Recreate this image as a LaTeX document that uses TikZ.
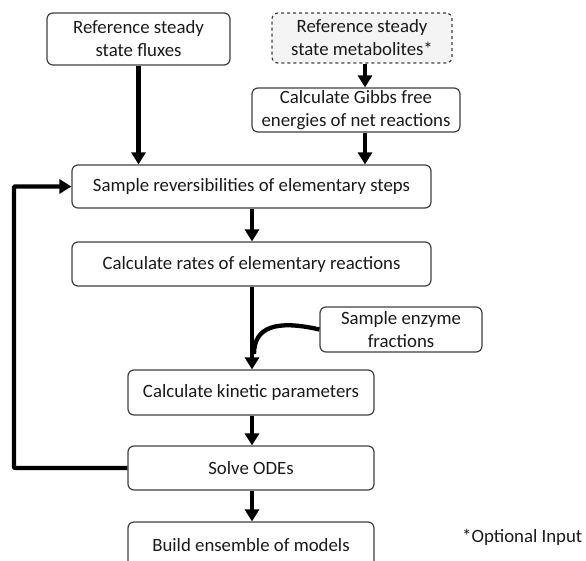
\documentclass[tikz,border=0pt]{standalone}
\usepackage{fontspec}
\setmainfont{Carlito}
\usetikzlibrary{arrows.meta}
\definecolor{boxline}{HTML}{404040}
\definecolor{boxfill}{HTML}{F4F4F4}
\definecolor{txt}{HTML}{1A1A1A}
\tikzset{
  procbox/.style={draw=boxline, line width=1.2pt, rounded corners=6pt, fill=white, text=txt,
    align=center, inner sep=0pt, font=\fontsize{18.8}{23}\selectfont},
  optbox/.style={procbox, dashed, fill=boxfill},
  flow/.style={line width=4.3pt, -{Triangle[width=14pt,length=12pt]}},
  flowline/.style={line width=4.3pt},
}
\begin{document}
\begin{tikzpicture}[x=1pt,y=-1pt]
\useasboundingbox (0,0) rectangle (586,560);
\node[procbox, minimum width=183pt, minimum height=52pt] (A) at (138.5,39) {Reference steady\\state fluxes};
\node[optbox, minimum width=180pt, minimum height=50pt] (B) at (362,38) {Reference steady\\state metabolites*};
\node[procbox, minimum width=208pt, minimum height=44pt] (C) at (356,110) {Calculate Gibbs free\\energies of net reactions};
\node[procbox, minimum width=359pt, minimum height=43pt] (D) at (251.5,186.5) {Sample reversibilities of elementary steps};
\node[procbox, minimum width=359pt, minimum height=44pt] (E) at (251.5,264) {Calculate rates of elementary reactions};
\node[procbox, minimum width=162pt, minimum height=45pt] (F) at (401,329.5) {Sample enzyme\\fractions};
\node[procbox, minimum width=246pt, minimum height=45pt] (G) at (251,392.5) {Calculate kinetic parameters};
\node[procbox, minimum width=246pt, minimum height=44pt] (H) at (251,468) {Solve ODEs};
\node[procbox, minimum width=246pt, minimum height=46pt] (I) at (251,545) {Build ensemble of models};
\node[anchor=west, inner sep=0pt, text=txt, font=\fontsize{18.8}{23}\selectfont] (note) at (462,537) {*Optional Input};
\coordinate (cx) at (365,0);
\coordinate (mx) at (252,0);
\coordinate (lx) at (14,0);
\draw[flow] (A.south) -- (A.south |- D.north);
\draw[flow] (B.south -| cx) -- (C.north -| cx);
\draw[flow] (C.south -| cx) -- (D.north -| cx);
\draw[flow] (D.south -| mx) -- (E.north -| mx);
\draw[flow] (E.south -| mx) -- (G.north -| mx);
\draw[flowline] (F.west) .. controls (276,319.5) and (254,327) .. (254,354);
\draw[flow] (G.south -| mx) -- (H.north -| mx);
\draw[flow] (H.south -| mx) -- (I.north -| mx);
\draw[flow, rounded corners=1pt] (H.west) -- (H.west -| lx) -- (lx |- D.west) -- (D.west);
\end{tikzpicture}
\end{document}
